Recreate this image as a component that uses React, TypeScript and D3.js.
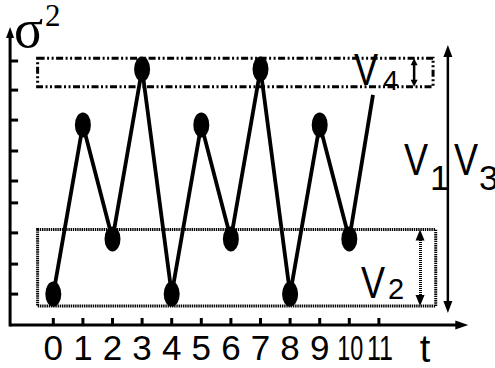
import React from "react";
import * as d3 from "d3";

// ---- data ----
const times = [0, 1, 2, 3, 4, 5, 6, 7, 8, 9, 10];
const variances = [1.03, 6.67, 2.87, 8.53, 1.03, 6.67, 2.87, 8.53, 1.03, 6.67, 2.87];
// trailing line segment without a marker
const tailTime = 10.8;
const tailVariance = 7.67;
const xTickValues = [0, 1, 2, 3, 4, 5, 6, 7, 8, 9, 10, 11];
const xTickLabels = ["0", "1", "2", "3", "4", "5", "6", "7", "8", "9", "10", "11"];
const yTickValues = [1.03, 2.03, 3.07, 4.07, 4.8, 5.8, 6.83, 7.83, 8.8];
// annotation boxes in data units [t0, t1, v0, v1]
const boxV2 = [-0.53, 12.92, 0.63, 3.18];
const boxV4 = [-0.53, 12.83, 7.94, 8.89];
const arrowV4 = [12.19, 7.94, 8.89];
const arrowV2 = [12.39, 0.63, 3.18];
const arrowV13 = [13.33, 0.4, 9.33];

const W = 495;
const H = 368;

function Arrow({ x, y1, y2, hw, hh, sw, dash }: any) {
  // y1 top, y2 bottom (pixels)
  return (
    <g>
      <line
        x1={x}
        x2={x}
        y1={y1 + hh - 1}
        y2={y2 - hh + 1}
        stroke="#000"
        strokeWidth={sw}
        strokeDasharray={dash}
        shapeRendering={dash ? "crispEdges" : undefined}
      />
      <polygon points={`${x},${y1} ${x - hw / 2},${y1 + hh} ${x + hw / 2},${y1 + hh}`} fill="#000" />
      <polygon points={`${x},${y2} ${x - hw / 2},${y2 - hh} ${x + hw / 2},${y2 - hh}`} fill="#000" />
    </g>
  );
}

export default function App() {
  const x = d3.scaleLinear().domain([0, 10]).range([53.3, 349.3]);
  const y = d3.scaleLinear().domain([0, 10]).range([325, 25]);
  const line = d3
    .line<[number, number]>()
    .x((d) => x(d[0]))
    .y((d) => y(d[1]));
  const pts: [number, number][] = times.map((t, i) => [t, variances[i]]);
  const path = line([...pts, [tailTime, tailVariance]]);

  const x0 = x(-1.46);
  const xEnd = x(14.02);
  const y0 = y(0);
  const yTop = y(9.93);
  const sans = "'Liberation Sans', Arial, Helvetica, sans-serif";
  const serif = "'Liberation Serif', 'Times New Roman', serif";

  const vLabel = (left: number, base: number, sub: string, subLeft: number, subBase: number, subSize: number) => (
    <g fontFamily={sans} fill="#000">
      <text transform={`translate(${left},${base}) scale(0.82,1)`} fontSize={44}>V</text>
      <text x={subLeft} y={subBase} fontSize={subSize}>{sub}</text>
    </g>
  );

  return (
    <svg width={W} height={H} style={{ position: "absolute", left: 0, top: 0, background: "#fff" }}>
      {/* annotation boxes */}
      <rect
        x={x(boxV2[0])}
        y={y(boxV2[3])}
        width={x(boxV2[1]) - x(boxV2[0])}
        height={y(boxV2[2]) - y(boxV2[3])}
        fill="none"
        stroke="#000"
        strokeWidth={3}
        strokeDasharray="1.4 0.8"
      />
      <rect
        x={x(boxV4[0])}
        y={y(boxV4[3])}
        width={x(boxV4[1]) - x(boxV4[0])}
        height={y(boxV4[2]) - y(boxV4[3])}
        fill="none"
        stroke="#000"
        strokeWidth={3}
        strokeDasharray="7 2.5 2 2.5 2 2.5"
      />

      {/* data line */}
      <path d={path || ""} fill="none" stroke="#000" strokeWidth={3.8} strokeLinejoin="round" />
      {pts.map((d, i) => (
        <ellipse key={i} cx={x(d[0])} cy={y(d[1])} rx={8} ry={12.5} fill="#000" />
      ))}

      {/* axes */}
      <line x1={x0} x2={xEnd - 10} y1={y0} y2={y0} stroke="#000" strokeWidth={3} />
      <polygon points={`${xEnd},${y0} ${xEnd - 13},${y0 - 4.5} ${xEnd - 13},${y0 + 4.5}`} fill="#000" />
      <line x1={x0} x2={x0} y1={y0 + 1.5} y2={yTop + 8} stroke="#000" strokeWidth={3} />
      <polygon points={`${x0},${yTop} ${x0 - 4},${yTop + 11} ${x0 + 4},${yTop + 11}`} fill="#000" />
      {yTickValues.map((v, i) => (
        <line key={i} x1={x0} x2={x0 + 8} y1={y(v)} y2={y(v)} stroke="#000" strokeWidth={3} />
      ))}
      {xTickValues.map((t, i) => (
        <line key={i} x1={x(t)} x2={x(t)} y1={y0} y2={y0 - 7} stroke="#000" strokeWidth={3} />
      ))}
      <g fontFamily={sans} fontSize={35} textAnchor="middle" fill="#000">
        {xTickValues.map((t, i) =>
          xTickLabels[i].length > 1 ? (
            <text key={i} x={x(t) + 1} y={360} textLength={26} lengthAdjust="spacingAndGlyphs">
              {xTickLabels[i]}
            </text>
          ) : (
            <text key={i} x={x(t)} y={360}>
              {xTickLabels[i]}
            </text>
          )
        )}
        <text x={425} y={362} fontSize={38}>t</text>
      </g>

      {/* sigma^2 */}
      <g fontFamily={serif} fill="#000">
        <text x={14} y={47} fontSize={54}>σ</text>
        <text x={45} y={26} fontSize={31}>2</text>
      </g>

      {/* arrows */}
      <Arrow x={x(arrowV4[0])} y1={y(arrowV4[2])} y2={y(arrowV4[1])} hw={7} hh={7} sw={2.5} />
      <Arrow x={x(arrowV2[0])} y1={y(arrowV2[2])} y2={y(arrowV2[1])} hw={9} hh={11} sw={3} dash="1 1" />
      <Arrow x={x(arrowV13[0])} y1={y(arrowV13[2])} y2={y(arrowV13[1])} hw={9} hh={12} sw={2.5} />

      {/* labels */}
      {vLabel(354, 85, "4", 383, 90, 28)}
      {vLabel(404, 175, "1", 430, 190, 35)}
      {vLabel(454, 175, "3", 479, 190, 35)}
      {vLabel(361, 298, "2", 388, 299, 29)}
    </svg>
  );
}
